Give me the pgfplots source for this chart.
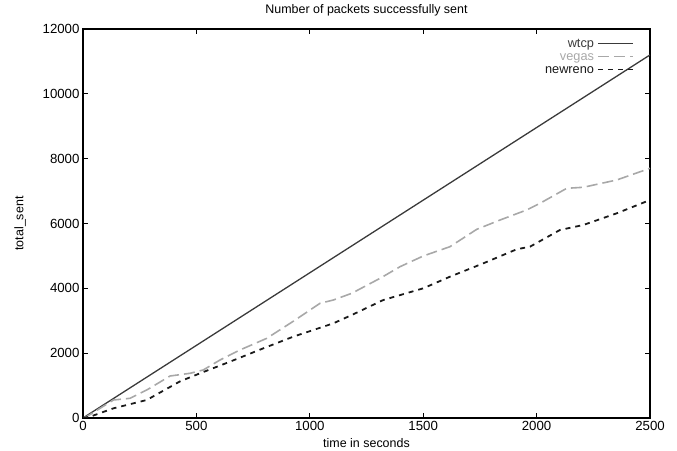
\documentclass[border=0pt]{standalone}
\usepackage{fontspec}
\setmainfont{Liberation Sans}
\usepackage{pgfplots}
\pgfplotsset{compat=1.18}

\definecolor{wtcpc}{HTML}{3A3A3A}
\definecolor{vegasc}{HTML}{A8A8A8}
\definecolor{renoc}{HTML}{1A1A1A}

\begin{document}
\begin{tikzpicture}
\path[use as bounding box] (0,0) rectangle (677bp,451bp);
\begin{axis}[
    at={(83bp,33bp)}, anchor=south west,
    scale only axis,
    width=567bp, height=389bp,
    xmin=0, xmax=2500, ymin=0, ymax=12000,
    xtick={0,500,...,2500},
    ytick={0,2000,...,12000},
    tick align=inside,
    major tick length=5bp,
    axis line style={line width=1.6pt},
    tick style={line width=1pt, black},
    font=\fontsize{12.5}{14}\selectfont,
    tick label style={font=\fontsize{13.3}{15}\selectfont},
    /pgf/number format/assume math mode=true,
    scaled ticks=false,
    xticklabel style={/pgf/number format/1000 sep={}},
    yticklabel style={/pgf/number format/1000 sep={}},
    every axis title shift=0pt,
    title={Number of packets successfully sent},
    title style={at={(0.5,1)}, anchor=center, yshift=19bp, inner sep=0pt},
    xlabel={time in seconds},
    xlabel style={at={(0.5,0)}, anchor=center, yshift=-25bp, inner sep=0pt},
    ylabel={total\_sent},
    ylabel style={at={(0,0.5)}, anchor=center, yshift=63bp, inner sep=0pt},
    legend style={draw=none, fill=none, at={(0.977,0.985)}, anchor=north east,
        font=\fontsize{12.8}{14}\selectfont, row sep=0pt,
        nodes={inner ysep=0.5bp, inner xsep=3bp, text height=9.5bp, text depth=2.5bp}},
    legend cell align=right,
    legend plot pos=right,
    legend image code/.code={\draw[#1] (0bp,0bp) -- (35bp,0bp);},
]
\addplot[color=wtcpc, line width=1.3pt] coordinates {
    (0,0) (2500,11200)
};
\addlegendentry{\textcolor{wtcpc}{wtcp}}
\addplot[color=vegasc, line width=1.6pt, dash pattern=on 11bp off 5bp] coordinates {
    (0,0) (16,40) (134,555) (207,607) (281,864) (384,1296) (472,1379)
    (530,1481) (604,1789) (692,2098) (810,2457) (927,2983) (1045,3538)
    (1104,3640) (1185,3847) (1310,4310) (1398,4668) (1500,4997)
    (1618,5285) (1736,5820) (1839,6108) (1956,6417) (2015,6623)
    (2133,7086) (2206,7117) (2353,7342) (2500,7703)
};
\addlegendentry{\textcolor{vegasc}{vegas}}
\addplot[color=renoc, line width=1.8pt, dash pattern=on 5bp off 5bp] coordinates {
    (0,0) (31,40) (134,298) (281,555) (428,1131) (516,1379) (648,1737)
    (795,2149) (927,2509) (1016,2715) (1104,2921) (1185,3177)
    (1324,3640) (1500,4000) (1618,4359) (1765,4771) (1912,5204)
    (1971,5285) (2103,5800) (2206,5954) (2353,6314) (2500,6725)
};
\addlegendentry{\textcolor{renoc}{newreno}}
\end{axis}
\end{tikzpicture}
\end{document}
